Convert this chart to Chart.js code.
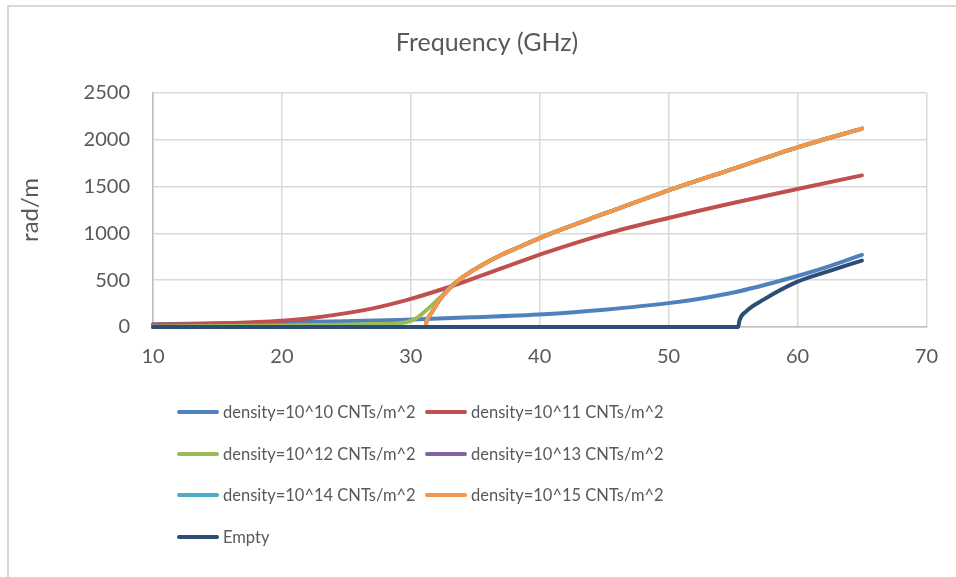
<!DOCTYPE html>
<html>
<head>
<meta charset="utf-8">
<script src="https://cdn.jsdelivr.net/npm/chart.js@4.4.1/dist/chart.umd.min.js"></script>
<style>
  html, body { margin: 0; padding: 0; background: #fff; }
  #wrap { position: relative; width: 956px; height: 577px; overflow: hidden; }
  #frame { position: absolute; left: 7px; top: 5px; width: 960px; height: 590px;
           border-left: 2px solid #d9d9d9; border-top: 2px solid #d9d9d9; pointer-events: none; }
  #legend { position: absolute; left: 177px; top: 391px; width: 520px;
            font-family: Lato, "Open Sans", sans-serif; font-size: 16.5px; color: #595959; }
  #legend .item { display: inline-flex; align-items: center; width: 248px; height: 41.7px; white-space: nowrap; }
  #legend .swatch { display: inline-block; width: 42px; height: 4px; border-radius: 2px; margin-right: 4px; flex: none; }
</style>
</head>
<body>
<div id="wrap">
  <canvas id="chart" width="956" height="577"></canvas>
  <div id="legend"></div>
  <div id="frame"></div>
</div>
<script>
// values (frequency in GHz, beta in rad/m)
var freqD10 = [10, 15, 20, 25, 29.1, 35, 40.7, 45, 50, 52.3, 55.4, 60, 62.5, 65];
var betaD10 = [30, 40, 50, 62, 75, 105, 139, 185, 255, 300, 380, 545, 650, 770];

var freqD11 = [10, 15, 20, 22.5, 25, 27.5, 30, 33.2, 35.3, 40.7, 45, 50, 55, 60, 65];
var betaD11 = [25, 38, 67, 100, 148, 212, 300, 438, 540, 805, 990, 1165, 1325, 1475, 1620];

var freqD12 = [10, 20, 26.8, 29.1, 30, 30.5, 31, 31.5, 32, 32.4, 33.2, 34, 35.5, 37, 38.5, 40.7, 45, 50, 55, 60, 65];
var betaD12 = [5, 15, 30, 39, 65, 100, 155, 215, 280, 330, 440, 530, 660, 770, 860, 990, 1210, 1460, 1690, 1920, 2120];

// 10^13, 10^14 and 10^15 lie on top of each other
var freqHigh = [10, 20, 30, 31.15, 31.2, 31.4, 31.65, 32, 32.4, 33.2, 34, 35.5, 37, 38.5, 40.7, 45, 50, 55, 60, 65];
var betaD13 = [0, 0, 0, 0, 50, 110, 160, 240, 320, 440, 530, 660, 770, 860, 990, 1210, 1460, 1690, 1920, 2120];
var betaD14 = [0, 0, 0, 0, 50, 110, 160, 240, 320, 440, 530, 660, 770, 860, 990, 1210, 1460, 1690, 1920, 2120];
var betaD15 = [0, 0, 0, 0, 50, 110, 160, 240, 320, 440, 530, 660, 770, 860, 990, 1210, 1460, 1690, 1920, 2120];

var freqEmpty = [10, 20, 30, 40, 50, 55.4, 55.5, 56, 57.4, 60, 62.5, 65];
var betaEmpty = [0, 0, 0, 0, 0, 0, 70, 165, 295, 484, 600, 710];

var seriesNames = [
	'density=10^10 CNTs/m^2',
	'density=10^11 CNTs/m^2',
	'density=10^12 CNTs/m^2',
	'density=10^13 CNTs/m^2',
	'density=10^14 CNTs/m^2',
	'density=10^15 CNTs/m^2',
	'Empty'
];
var seriesColors = ['#4f81bd', '#c0504d', '#9bbb59', '#8064a2', '#4bacc6', '#f79646', '#2c4d75'];
var xTicks = [10, 20, 30, 40, 50, 60, 70];
var yTicks = [0, 500, 1000, 1500, 2000, 2500];

function toPoints(xs, ys) {
	var pts = [];
	for (var i = 0; i < xs.length; i++) {
		pts.push({x: xs[i], y: ys[i]});
	}
	return pts;
}

var seriesData = [
	toPoints(freqD10, betaD10),
	toPoints(freqD11, betaD11),
	toPoints(freqD12, betaD12),
	toPoints(freqHigh, betaD13),
	toPoints(freqHigh, betaD14),
	toPoints(freqHigh, betaD15),
	toPoints(freqEmpty, betaEmpty)
];

var datasets = [];
for (var i = 0; i < seriesNames.length; i++) {
	datasets.push({
		label: seriesNames[i],
		data: seriesData[i],
		borderColor: seriesColors[i],
		backgroundColor: seriesColors[i],
		borderWidth: 4,
		borderCapStyle: 'round',
		pointRadius: 0,
		clip: 8,
		cubicInterpolationMode: 'monotone',
		order: seriesNames.length - i // later series drawn on top, like Excel
	});
}

var textColor = '#595959';
var fontFamily = 'Lato, "Open Sans", sans-serif';

var chart = new Chart(document.getElementById('chart'), {
	type: 'line',
	data: { datasets: datasets },
	options: {
		responsive: false,
		animation: false,
		// left padding is wide so the title centres where it does in the reference
		layout: { padding: { left: 44, right: 26, top: 0, bottom: 197.5 } },
		plugins: {
			title: {
				display: true,
				text: 'Frequency (GHz)',
				color: textColor,
				font: { family: fontFamily, size: 25, weight: 'normal' },
				padding: { top: 28, bottom: 35 }
			},
			legend: { display: false },
			tooltip: { enabled: false }
		},
		scales: {
			x: {
				type: 'linear',
				min: 10,
				max: 70,
				afterBuildTicks: function (s) { s.ticks = xTicks.map(function (v) { return {value: v}; }); },
				afterFit: function (s) { s.height = 52.5; },
				grid: { color: '#d9d9d9', lineWidth: 1.5, drawTicks: false },
				border: { color: '#bfbfbf', width: 1.5 },
				ticks: {
					color: textColor, padding: 18, font: { family: fontFamily, size: 20 },
					callback: function (v) { return String(v); }
				}
			},
			y: {
				min: 0,
				max: 2500,
				afterBuildTicks: function (s) { s.ticks = yTicks.map(function (v) { return {value: v}; }); },
				afterFit: function (s) { s.width = 109; },
				grid: { color: '#d9d9d9', lineWidth: 1.5, drawTicks: false },
				border: { color: '#bfbfbf', width: 1.5 },
				title: {
					display: true,
					text: 'rad/m',
					color: textColor,
					font: { family: fontFamily, size: 24 },
					padding: { top: -28, bottom: 4 }
				},
				ticks: {
					color: textColor, padding: 23, font: { family: fontFamily, size: 20 },
					callback: function (v) { return String(v); }
				}
			}
		}
	}
});

// legend in two columns, as in the reference
var legendEl = document.getElementById('legend');
chart.data.datasets.forEach(function (ds) {
	var item = document.createElement('span');
	item.className = 'item';
	var sw = document.createElement('span');
	sw.className = 'swatch';
	sw.style.background = ds.borderColor;
	item.appendChild(sw);
	item.appendChild(document.createTextNode(ds.label));
	legendEl.appendChild(item);
});
</script>
</body>
</html>
